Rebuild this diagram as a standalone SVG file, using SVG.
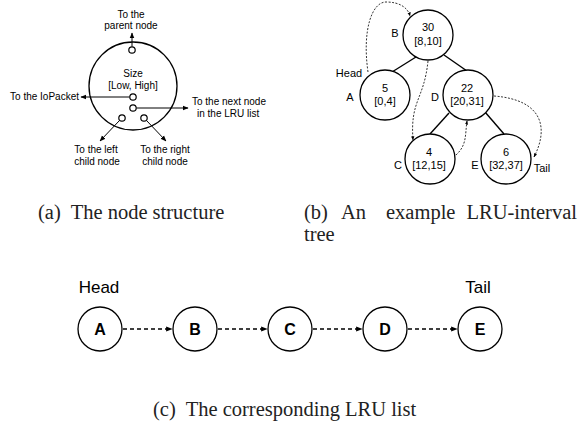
<svg xmlns="http://www.w3.org/2000/svg" width="579" height="429" viewBox="0 0 579 429">
<style>
.s{font-family:"Liberation Sans",Arial,sans-serif;fill:#000}
.t{font-family:"Liberation Serif","Times New Roman",serif;fill:#222;font-size:20.5px}
.c{fill:#fff;stroke:#000;stroke-width:1.3}
.cs{fill:#fff;stroke:#000;stroke-width:1.2}
.ln{stroke:#000;stroke-width:1;fill:none}
.e{stroke:#000;stroke-width:1.4;fill:none}
.d{stroke:#000;stroke-width:0.8;fill:none;stroke-dasharray:2,1.5}
.dl{stroke:#000;stroke-width:1.3;fill:none;stroke-dasharray:4,3}
</style>
<defs>
<marker id="ah" viewBox="0 0 10 10" refX="9" refY="5" markerWidth="5" markerHeight="5" orient="auto"><path d="M0,1 L10,5 L0,9 z" fill="#000"/></marker>
<marker id="ahs" viewBox="0 0 10 10" refX="9" refY="5" markerWidth="6" markerHeight="6" orient="auto"><path d="M0,1 L10,5 L0,9 z" fill="#000"/></marker>
</defs>

<!-- (a) node structure -->
<g id="node-structure">
<circle class="c" cx="133" cy="86" r="44"/>
<text class="s" x="133" y="77" font-size="10" text-anchor="middle">Size</text>
<text class="s" x="133" y="89" font-size="10" text-anchor="middle">[Low, High]</text>
<circle class="cs" cx="132" cy="50" r="3.2"/>
<circle class="cs" cx="133" cy="97" r="3.2"/>
<circle class="cs" cx="133" cy="108" r="3.2"/>
<circle class="cs" cx="122" cy="118" r="3.2"/>
<circle class="cs" cx="144" cy="118" r="3.2"/>
</g>
<g id="structure-labels">
<text class="s" x="131" y="18" font-size="10" text-anchor="middle">To the</text>
<text class="s" x="131" y="29" font-size="10" text-anchor="middle">parent node</text>
<text class="s" x="79" y="100" font-size="10" text-anchor="end">To the IoPacket</text>
<text class="s" x="192" y="105" font-size="10">To the next node</text>
<text class="s" x="197" y="117" font-size="10">in the LRU list</text>
<text class="s" x="96" y="153" font-size="10" text-anchor="middle">To the left</text>
<text class="s" x="97" y="165" font-size="10" text-anchor="middle">child node</text>
<text class="s" x="165" y="153" font-size="10" text-anchor="middle">To the right</text>
<text class="s" x="165" y="165" font-size="10" text-anchor="middle">child node</text>
</g>

<!-- (b) tree -->
<g id="tree-edges">
<line class="e" x1="416" y1="57" x2="392" y2="72"/>
<line class="e" x1="444" y1="55" x2="467" y2="71"/>
<line class="e" x1="449" y1="113" x2="430" y2="134"/>
<line class="e" x1="485" y1="112" x2="504" y2="134"/>
</g>
<g id="node-B"><circle class="c" cx="428" cy="35" r="25"/>
<text class="s" x="428" y="31" font-size="11" text-anchor="middle">30</text>
<text class="s" x="428" y="45" font-size="11" text-anchor="middle">[8,10]</text>
<text class="s" x="395" y="37" font-size="11" text-anchor="middle">B</text></g>
<g id="node-A"><circle class="c" cx="385" cy="95" r="25"/>
<text class="s" x="385" y="92" font-size="11" text-anchor="middle">5</text>
<text class="s" x="385" y="105" font-size="11" text-anchor="middle">[0,4]</text>
<text class="s" x="350" y="101" font-size="11" text-anchor="middle">A</text>
<text class="s" x="349" y="77" font-size="11" text-anchor="middle">Head</text></g>
<g id="node-D"><circle class="c" cx="468" cy="95" r="25"/>
<text class="s" x="467" y="92" font-size="11" text-anchor="middle">22</text>
<text class="s" x="467" y="105" font-size="11" text-anchor="middle">[20,31]</text>
<text class="s" x="435" y="101" font-size="11" text-anchor="middle">D</text></g>
<g id="node-C"><circle class="c" cx="430" cy="159" r="25"/>
<text class="s" x="429" y="156" font-size="11" text-anchor="middle">4</text>
<text class="s" x="429" y="169" font-size="11" text-anchor="middle">[12,15]</text>
<text class="s" x="398" y="169" font-size="11" text-anchor="middle">C</text></g>
<g id="node-E"><circle class="c" cx="506" cy="159" r="25"/>
<text class="s" x="506" y="156" font-size="11" text-anchor="middle">6</text>
<text class="s" x="506" y="169" font-size="11" text-anchor="middle">[32,37]</text>
<text class="s" x="475" y="169" font-size="11" text-anchor="middle">E</text>
<text class="s" x="542" y="172" font-size="11" text-anchor="middle">Tail</text></g>
<g id="tree-lru-links">
<path class="d" marker-end="url(#ah)" d="M368,72 C362,30 372,2 386,2 C400,2 408,8 410,16"/>
<path class="d" marker-end="url(#ah)" d="M428,61 C424,100 410,100 413,140"/>
<path class="d" marker-end="url(#ah)" d="M456,155 C467,145 465,135 467,121"/>
<path class="d" marker-end="url(#ah)" d="M494,96 C545,100 548,130 534,157"/>
</g>

<!-- (c) list -->
<g id="list-A"><circle class="c" cx="100" cy="329" r="22"/><text class="s" x="100" y="335" font-size="16" font-weight="bold" text-anchor="middle">A</text>
<text class="s" x="99" y="293" font-size="17" text-anchor="middle">Head</text></g>
<g id="list-B"><circle class="c" cx="195" cy="329" r="22"/><text class="s" x="195" y="335" font-size="16" font-weight="bold" text-anchor="middle">B</text></g>
<g id="list-C"><circle class="c" cx="290" cy="329" r="22"/><text class="s" x="290" y="335" font-size="16" font-weight="bold" text-anchor="middle">C</text></g>
<g id="list-D"><circle class="c" cx="385" cy="329" r="22"/><text class="s" x="385" y="335" font-size="16" font-weight="bold" text-anchor="middle">D</text></g>
<g id="list-E"><circle class="c" cx="480" cy="329" r="22"/><text class="s" x="480" y="335" font-size="16" font-weight="bold" text-anchor="middle">E</text>
<text class="s" x="478" y="293" font-size="17" text-anchor="middle">Tail</text></g>

<g id="connectors">
<line class="ln" x1="132" y1="46.5" x2="132" y2="33" marker-end="url(#ahs)"/>
<line class="ln" x1="129.5" y1="97" x2="81" y2="97" marker-end="url(#ahs)"/>
<line class="ln" x1="136.5" y1="108" x2="188" y2="108" marker-end="url(#ahs)"/>
<line class="ln" x1="119.5" y1="120.5" x2="100" y2="141" marker-end="url(#ahs)"/>
<line class="ln" x1="146.5" y1="120.5" x2="166" y2="141" marker-end="url(#ahs)"/>
<line class="dl" x1="123" y1="329" x2="172" y2="329" marker-end="url(#ah)"/>
<line class="dl" x1="218" y1="329" x2="267" y2="329" marker-end="url(#ah)"/>
<line class="dl" x1="313" y1="329" x2="362" y2="329" marker-end="url(#ah)"/>
<line class="dl" x1="408" y1="329" x2="457" y2="329" marker-end="url(#ah)"/>
</g>

<g id="captions">
<text class="t" x="38" y="219" xml:space="preserve">(a)  The node structure</text>
<text class="t" y="219"><tspan x="304">(b)</tspan><tspan x="341">An</tspan><tspan x="386">example</tspan><tspan x="577" text-anchor="end">LRU-interval</tspan></text>
<text class="t" x="304" y="241">tree</text>
<text class="t" x="153" y="416" xml:space="preserve">(c)  The corresponding LRU list</text>
</g>
</svg>
